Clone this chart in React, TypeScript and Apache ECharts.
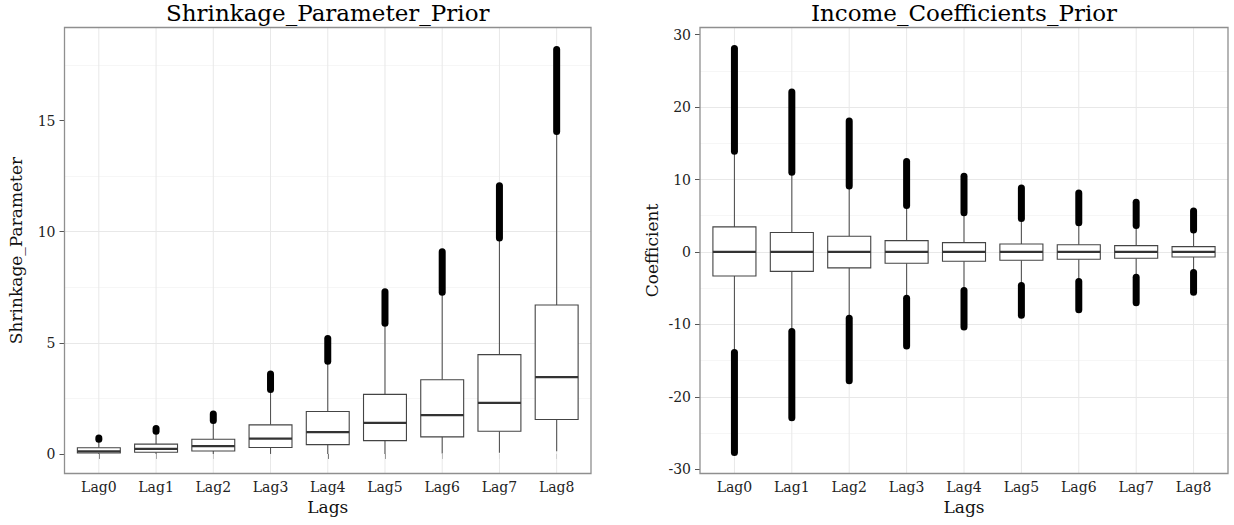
import React, { useEffect, useRef } from "react";
import * as echarts from "echarts";

// ---------- data ----------
const lags = ["Lag0", "Lag1", "Lag2", "Lag3", "Lag4", "Lag5", "Lag6", "Lag7", "Lag8"];

// Shrinkage_Parameter_Prior
const shrinkWhiskerLow = [0.0, 0.0, 0.0, 0.0, 0.0, 0.0, 0.02, 0.05, 0.12];
const shrinkQ1 = [0.04, 0.075, 0.135, 0.29, 0.42, 0.6, 0.77, 1.02, 1.55];
const shrinkMedian = [0.12, 0.23, 0.35, 0.69, 0.98, 1.4, 1.75, 2.3, 3.46];
const shrinkQ3 = [0.28, 0.44, 0.66, 1.31, 1.91, 2.68, 3.34, 4.47, 6.7];
const shrinkWhiskerHigh = [0.62, 0.98, 1.45, 2.84, 4.13, 5.8, 7.2, 9.65, 14.45];
const shrinkOutUpperFrom = [0.66, 1.02, 1.5, 2.9, 4.17, 5.88, 7.28, 9.72, 14.51];
const shrinkOutUpperTo = [0.72, 1.15, 1.8, 3.6, 5.2, 7.3, 9.1, 12.07, 18.2];
const shrinkTicks = [0, 5, 10, 15];
const shrinkRange = [-0.88, 19.19];

// Income_Coefficients_Prior
const incomeWhiskerLow = [-13.6, -10.8, -8.9, -6.2, -5.1, -4.45, -3.85, -3.3, -2.65];
const incomeQ1 = [-3.32, -2.68, -2.2, -1.57, -1.29, -1.15, -1.0, -0.88, -0.7];
const incomeMedian = [0, 0, 0, 0, 0, 0, 0, 0, 0];
const incomeQ3 = [3.46, 2.68, 2.17, 1.57, 1.29, 1.1, 1.0, 0.88, 0.74];
const incomeWhiskerHigh = [13.6, 10.8, 8.9, 6.2, 5.2, 4.45, 3.85, 3.45, 2.85];
const incomeOutUpperFrom = [13.9, 11.0, 9.1, 6.4, 5.42, 4.63, 4.03, 3.66, 3.02];
const incomeOutUpperTo = [28.1, 22.1, 18.07, 12.5, 10.46, 8.84, 8.15, 6.86, 5.66];
const incomeOutLowerFrom = [-27.7, -22.9, -17.8, -13.0, -10.36, -8.75, -7.97, -7.0, -5.57];
const incomeOutLowerTo = [-13.9, -11.0, -9.16, -6.4, -5.33, -4.63, -4.08, -3.48, -2.83];
const incomeTicks = [-30, -20, -10, 0, 10, 20, 30];
const incomeRange = [-30.6, 31.0];

// ---------- layout ----------
const FONT = "DejaVu Serif";
const TOP = 27.5;
const HEIGHT = 446;
const LEFT_PANEL = { left: 64.5, width: 526.5 };
const RIGHT_PANEL = { left: 700, width: 528 };

function inner(p: { left: number; width: number }) {
  const unit = p.width / 9.2;
  return { left: p.left + unit * 0.1, top: TOP, width: p.width - unit * 0.2, height: HEIGHT };
}

function makeRenderItem(yMin: number, yMax: number) {
  return (params: any, api: any) => {
    const i = api.value(0);
    const lo = api.value(1);
    const q1 = api.value(2);
    const med = api.value(3);
    const q3 = api.value(4);
    const hi = api.value(5);
    const ouF = api.value(6);
    const ouT = api.value(7);
    const olF = api.value(8);
    const olT = api.value(9);
    const x = api.coord([i, med])[0];
    const y = (v: number) => api.coord([i, v])[1];
    const half = api.size([1, 0])[0] * 0.375;
    const children: any[] = [];
    children.push({
      type: "line",
      silent: true,
      shape: { x1: x, y1: y(yMin), x2: x, y2: y(yMax) },
      style: { stroke: "#e8e8e8", lineWidth: 1 },
    });
    children.push({
      type: "line",
      shape: { x1: x, y1: y(lo), x2: x, y2: y(q1) },
      style: { stroke: "#555555", lineWidth: 1.1 },
    });
    children.push({
      type: "line",
      shape: { x1: x, y1: y(q3), x2: x, y2: y(hi) },
      style: { stroke: "#555555", lineWidth: 1.1 },
    });
    if (isFinite(ouF) && isFinite(ouT)) {
      children.push({
        type: "line",
        shape: { x1: x, y1: y(ouF), x2: x, y2: y(ouT) },
        style: { stroke: "#000000", lineWidth: 7, lineCap: "round" },
      });
    }
    if (isFinite(olF) && isFinite(olT)) {
      children.push({
        type: "line",
        shape: { x1: x, y1: y(olF), x2: x, y2: y(olT) },
        style: { stroke: "#000000", lineWidth: 7, lineCap: "round" },
      });
    }
    const yTop = y(q3);
    const yBot = y(q1);
    children.push({
      type: "rect",
      shape: { x: x - half, y: yTop, width: half * 2, height: yBot - yTop },
      style: { fill: "#ffffff", stroke: "#444444", lineWidth: 1.1 },
    });
    children.push({
      type: "line",
      shape: { x1: x - half, y1: y(med), x2: x + half, y2: y(med) },
      style: { stroke: "#333333", lineWidth: 2.2 },
    });
    return { type: "group", children };
  };
}

function buildRows(
  lo: number[], q1: number[], med: number[], q3: number[], hi: number[],
  ouF: number[], ouT: number[], olF?: number[], olT?: number[]
) {
  return lags.map((_, i) => [
    i, lo[i], q1[i], med[i], q3[i], hi[i], ouF[i], ouT[i],
    olF ? olF[i] : "-", olT ? olT[i] : "-",
  ]);
}

function yFrame(gridIndex: number, range: number[], ticks: number[], name: string) {
  return {
    type: "value",
    gridIndex,
    min: range[0],
    max: range[1],
    axisLine: { show: false },
    axisTick: { show: true, length: 5, customValues: ticks, lineStyle: { color: "#555555", width: 1 } },
    axisLabel: { customValues: ticks, margin: 9, color: "#222222", fontSize: 14, fontFamily: FONT },
    splitLine: { show: true, showMinLine: false, showMaxLine: false, lineStyle: { color: "#e8e8e8", width: 1 } },
    minorTick: { show: false, splitNumber: 2 },
    minorSplitLine: { show: true, lineStyle: { color: "#f6f6f6", width: 1 } },
    name,
    nameLocation: "middle",
    nameGap: 40,
    nameTextStyle: { fontSize: 17, color: "#111111", fontFamily: FONT },
  };
}

function yHidden(gridIndex: number, range: number[]) {
  return { type: "value", gridIndex, min: range[0], max: range[1], show: false };
}

function xCat(gridIndex: number) {
  return {
    type: "category",
    gridIndex,
    data: lags,
    boundaryGap: true,
    axisLine: { show: false },
    axisTick: { show: true, alignWithLabel: true, length: 5, lineStyle: { color: "#555555", width: 1 } },
    axisLabel: { margin: 6, color: "#222222", fontSize: 14, fontFamily: FONT },
    splitLine: { show: false },
    name: "Lags",
    nameLocation: "middle",
    nameGap: 21,
    nameTextStyle: { fontSize: 17, color: "#111111", fontFamily: FONT },
  };
}

export default function App() {
  const ref = useRef<HTMLDivElement>(null);
  useEffect(() => {
    if (!ref.current) return;
    const chart = echarts.init(ref.current, undefined, { renderer: "svg" });
    const li = inner(LEFT_PANEL);
    const ri = inner(RIGHT_PANEL);
    const option: any = {
      animation: false,
      backgroundColor: "#ffffff",
      textStyle: { fontFamily: FONT },
      grid: [
        { left: LEFT_PANEL.left, top: TOP, width: LEFT_PANEL.width, height: HEIGHT },
        li,
        { left: RIGHT_PANEL.left, top: TOP, width: RIGHT_PANEL.width, height: HEIGHT },
        ri,
      ],
      xAxis: [
        { type: "value", gridIndex: 0, min: 0, max: 1, show: false },
        xCat(1),
        { type: "value", gridIndex: 2, min: 0, max: 1, show: false },
        xCat(3),
      ],
      yAxis: [
        yFrame(0, shrinkRange, shrinkTicks, "Shrinkage_Parameter"),
        yHidden(1, shrinkRange),
        yFrame(2, incomeRange, incomeTicks, "Coefficient"),
        yHidden(3, incomeRange),
      ],
      series: [
        {
          type: "custom",
          xAxisIndex: 1,
          yAxisIndex: 1,
          renderItem: makeRenderItem(shrinkRange[0], shrinkRange[1]),
          data: buildRows(shrinkWhiskerLow, shrinkQ1, shrinkMedian, shrinkQ3, shrinkWhiskerHigh,
            shrinkOutUpperFrom, shrinkOutUpperTo),
          encode: { x: 0, y: [1, 2, 3, 4, 5] },
        },
        {
          type: "custom",
          xAxisIndex: 3,
          yAxisIndex: 3,
          renderItem: makeRenderItem(incomeRange[0], incomeRange[1]),
          data: buildRows(incomeWhiskerLow, incomeQ1, incomeMedian, incomeQ3, incomeWhiskerHigh,
            incomeOutUpperFrom, incomeOutUpperTo, incomeOutLowerFrom, incomeOutLowerTo),
          encode: { x: 0, y: [1, 2, 3, 4, 5] },
        },
      ],
      graphic: [
        {
          type: "text",
          x: LEFT_PANEL.left + LEFT_PANEL.width / 2,
          y: 13,
          style: { text: "Shrinkage_Parameter_Prior", fontFamily: FONT, fontSize: 23, fill: "#000000", align: "center", verticalAlign: "middle" },
        },
        {
          type: "text",
          x: RIGHT_PANEL.left + RIGHT_PANEL.width / 2,
          y: 13,
          style: { text: "Income_Coefficients_Prior", fontFamily: FONT, fontSize: 23, fill: "#000000", align: "center", verticalAlign: "middle" },
        },
        {
          type: "rect",
          z: 100,
          silent: true,
          shape: { x: LEFT_PANEL.left, y: TOP, width: LEFT_PANEL.width, height: HEIGHT },
          style: { fill: "none", stroke: "#8f8f8f", lineWidth: 1.3 },
        },
        {
          type: "rect",
          z: 100,
          silent: true,
          shape: { x: RIGHT_PANEL.left, y: TOP, width: RIGHT_PANEL.width, height: HEIGHT },
          style: { fill: "none", stroke: "#8f8f8f", lineWidth: 1.3 },
        },
      ],
    };
    chart.setOption(option);
    return () => chart.dispose();
  }, []);
  return (
    <div
      ref={ref}
      style={{ position: "fixed", left: 0, top: 0, width: 1234, height: 525, background: "#fff" }}
    />
  );
}
